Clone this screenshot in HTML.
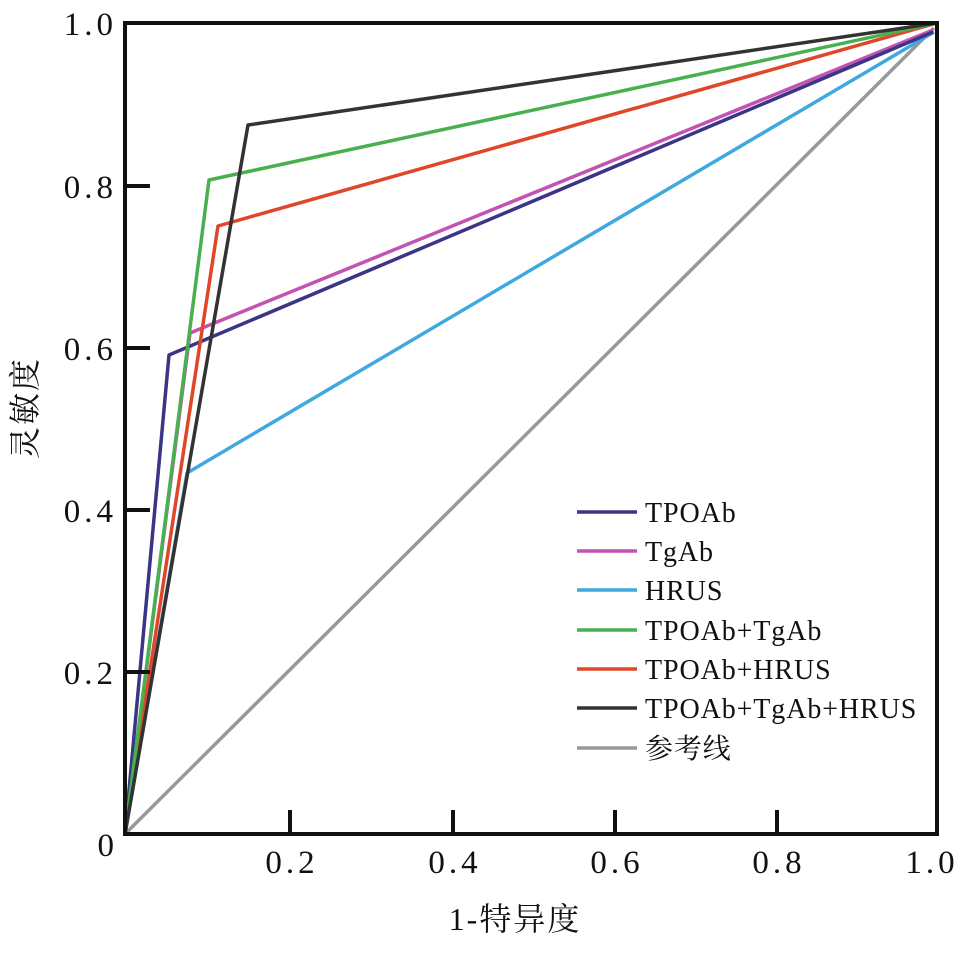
<!DOCTYPE html>
<html><head><meta charset="utf-8"><style>
body{margin:0;background:#fff}
svg text{font-family:"Liberation Serif","Noto Serif CJK SC",serif;fill:#111}
</style></head><body>
<svg width="965" height="956" viewBox="0 0 965 956" xmlns="http://www.w3.org/2000/svg">
<g fill="none" stroke-width="3.5" stroke-linejoin="round">
<polyline points="125,834 934,28" stroke="#999"/>
<polyline points="125,834 187,473 934,32" stroke="#3fa9df"/>
<polyline points="125,834 190,333 933,30" stroke="#c452b3"/>
<polyline points="125,834 169,355 933,32" stroke="#3a3585"/>
<polyline points="125,834 218,226 937,23" stroke="#e0472a"/>
<polyline points="125,834 209,180 937,23" stroke="#49b04f"/>
<polyline points="125,834 248,125 937,23" stroke="#333"/>
</g>
<g stroke="#111" stroke-width="4" fill="none">
<rect x="125" y="23" width="812" height="811"/>
<path d="M125 186h25M125 348h25M125 510h25M125 672h25M290 834v-24M453 834v-24M615 834v-24M777 834v-24"/>
</g>
<g font-size="33" text-anchor="end" letter-spacing="4">
<text x="117" y="35">1.0</text><text x="117" y="198">0.8</text><text x="117" y="360">0.6</text>
<text x="117" y="522">0.4</text><text x="117" y="684">0.2</text><text x="118" y="856">0</text>
</g>
<g font-size="33" text-anchor="middle" letter-spacing="4">
<text x="292" y="873">0.2</text><text x="455" y="873">0.4</text><text x="617" y="873">0.6</text>
<text x="779" y="873">0.8</text><text x="932" y="873">1.0</text>
</g>
<text x="515" y="930" font-size="32" text-anchor="middle" letter-spacing="2">1-特异度</text>
<text transform="translate(36,408) rotate(-90)" font-size="32" text-anchor="middle" letter-spacing="2">灵敏度</text>
<g stroke-width="3.5">
<line x1="577" y1="512" x2="637" y2="512" stroke="#3a3585"/>
<line x1="577" y1="551" x2="637" y2="551" stroke="#c452b3"/>
<line x1="577" y1="590" x2="637" y2="590" stroke="#3fa9df"/>
<line x1="577" y1="630" x2="637" y2="630" stroke="#49b04f"/>
<line x1="577" y1="669" x2="637" y2="669" stroke="#e0472a"/>
<line x1="577" y1="708" x2="637" y2="708" stroke="#333"/>
<line x1="577" y1="748" x2="637" y2="748" stroke="#999"/>
</g>
<g font-size="28" letter-spacing="0.9">
<text x="645" y="522">TPOAb</text><text x="645" y="561">TgAb</text><text x="645" y="600">HRUS</text>
<text x="645" y="640">TPOAb+TgAb</text><text x="645" y="679">TPOAb+HRUS</text>
<text x="645" y="718">TPOAb+TgAb+HRUS</text><text x="645" y="758">参考线</text>
</g>
</svg>
</body></html>
